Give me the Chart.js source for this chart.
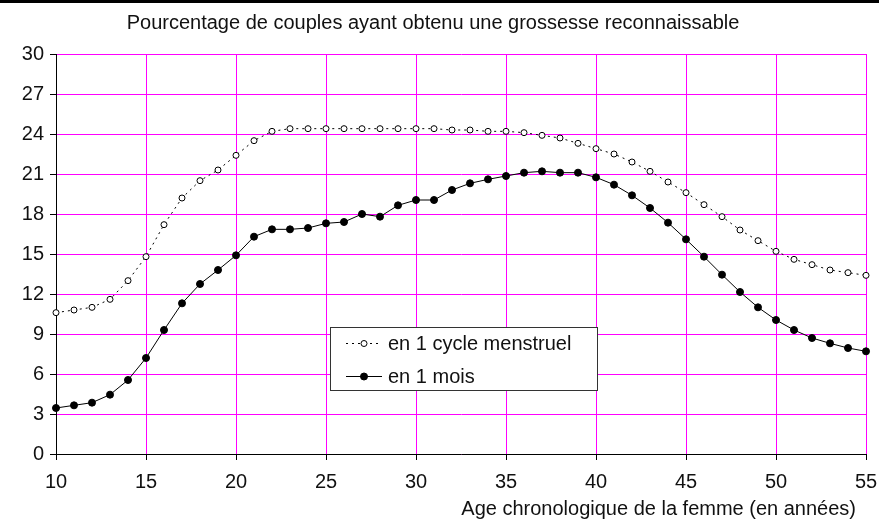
<!DOCTYPE html>
<html>
<head>
<meta charset="utf-8">
<script src="https://cdn.jsdelivr.net/npm/chart.js@4.4.1/dist/chart.umd.min.js"></script>
<style>
  html, body { margin: 0; padding: 0; background: #fff; }
  canvas { display: block; }
</style>
</head>
<body>
<canvas id="grossesse" width="879" height="530"></canvas>
<script>
// age de la femme (années)
const ages = [10, 11, 12, 13, 14, 15, 16, 17, 18, 19,
              20, 21, 22, 23, 24, 25, 26, 27, 28, 29,
              30, 31, 32, 33, 34, 35, 36, 37, 38, 39,
              40, 41, 42, 43, 44, 45, 46, 47, 48, 49,
              50, 51, 52, 53, 54, 55];

// % de couples, grossesse en 1 cycle menstruel
const parCycle = [10.6, 10.8, 11.0, 11.6, 13.0, 14.8, 17.2, 19.2, 20.5, 21.3,
                  22.4, 23.5, 24.2, 24.4, 24.4, 24.4, 24.4, 24.4, 24.4, 24.4,
                  24.4, 24.4, 24.3, 24.3, 24.2, 24.2, 24.1, 23.9, 23.7, 23.3,
                  22.9, 22.5, 21.9, 21.2, 20.4, 19.6, 18.7, 17.8, 16.8, 16.0,
                  15.2, 14.6, 14.2, 13.8, 13.6, 13.4];

// % de couples, grossesse en 1 mois
const parMois = [3.45, 3.65, 3.85, 4.45, 5.55, 7.2, 9.3, 11.3, 12.75, 13.8,
                 14.9, 16.3, 16.85, 16.85, 16.95, 17.3, 17.4, 18.0, 17.8, 18.65,
                 19.05, 19.05, 19.8, 20.3, 20.6, 20.85, 21.1, 21.2, 21.1, 21.1,
                 20.75, 20.2, 19.4, 18.45, 17.35, 16.1, 14.8, 13.45, 12.15, 11.0,
                 10.05, 9.3, 8.7, 8.3, 7.95, 7.7];

const xTicks = [10, 15, 20, 25, 30, 35, 40, 45, 50, 55];
const yTicks = [0, 3, 6, 9, 12, 15, 18, 21, 24, 27, 30];

const police = "'Liberation Sans', Arial, sans-serif";
const taille = 20;
const magenta = '#ff00ff';
const titreX = 'Age chronologique de la femme (en années)';

// fond blanc + filet noir en haut de la page
const fond = {
  id: 'fond',
  beforeDraw(chart) {
    const c = chart.ctx;
    c.save();
    c.fillStyle = '#fff';
    c.fillRect(0, 0, chart.width, chart.height);
    c.fillStyle = '#000';
    c.fillRect(0, 0, chart.width, 3);
    c.restore();
  }
};

// titre de l'axe x, calé à droite sous les graduations
const titreAxe = {
  id: 'titreAxe',
  afterDraw(chart) {
    const c = chart.ctx;
    c.save();
    c.fillStyle = '#111';
    c.font = taille + 'px ' + police;
    c.textAlign = 'right';
    c.textBaseline = 'middle';
    c.fillText(titreX, chart.chartArea.right - 10, 509);
    c.restore();
  }
};

// légende encadrée au milieu du graphique
const legendeBoite = {
  id: 'legendeBoite',
  afterDatasetsDraw(chart) {
    const c = chart.ctx;
    const x = 330, y = 327, w = 267, h = 63;
    c.save();
    c.fillStyle = '#fff';
    c.fillRect(x, y, w, h);
    c.strokeStyle = '#333';
    c.lineWidth = 1;
    c.strokeRect(x + 0.5, y + 0.5, w, h);

    chart.data.datasets.forEach((ds, i) => {
      const ly = y + 16 + i * 33;
      c.strokeStyle = '#000';
      c.setLineDash(ds.borderDash || []);
      c.beginPath();
      c.moveTo(346, ly + 0.5);
      c.lineTo(382, ly + 0.5);
      c.stroke();
      c.setLineDash([]);
      c.beginPath();
      c.arc(364, ly + 0.5, ds.pointRadius, 0, Math.PI * 2);
      c.fillStyle = ds.pointBackgroundColor;
      c.fill();
      c.stroke();
      c.fillStyle = '#111';
      c.font = taille + 'px ' + police;
      c.textBaseline = 'middle';
      c.fillText(ds.label, 388, ly + 1);
    });
    c.restore();
  }
};

new Chart(document.getElementById('grossesse'), {
  type: 'line',
  data: {
    datasets: [{
      label: 'en 1 cycle menstruel',
      data: ages.map((a, i) => ({ x: a, y: parCycle[i] })),
      borderColor: '#000',
      borderWidth: 1,
      borderDash: [2, 4],
      pointRadius: 3,
      pointBorderWidth: 1,
      pointBackgroundColor: '#fff',
      pointBorderColor: '#000',
      clip: false,
      tension: 0
    }, {
      label: 'en 1 mois',
      data: ages.map((a, i) => ({ x: a, y: parMois[i] })),
      borderColor: '#000',
      borderWidth: 1,
      pointRadius: 3.5,
      pointBorderWidth: 1,
      pointBackgroundColor: '#000',
      pointBorderColor: '#000',
      clip: false,
      tension: 0
    }]
  },
  options: {
    responsive: false,
    animation: false,
    layout: { padding: { left: 0, right: 13, top: 0, bottom: 0 } },
    plugins: {
      legend: { display: false },
      tooltip: { enabled: false },
      title: {
        display: true,
        text: 'Pourcentage de couples ayant obtenu une grossesse reconnaissable',
        color: '#111',
        font: { family: police, size: taille, weight: 'normal' },
        padding: { top: 11, bottom: 19 }
      }
    },
    scales: {
      x: {
        type: 'linear',
        min: 10,
        max: 55,
        afterBuildTicks(scale) {
          scale.ticks = xTicks.map(v => ({ value: v }));
        },
        afterFit(scale) {
          scale.height = 76;
          scale.paddingLeft = 0;
          scale.paddingRight = 0;
        },
        grid: { color: magenta, lineWidth: 1, tickColor: '#000', tickLength: 6 },
        border: { color: '#000', width: 1 },
        ticks: { color: '#111', padding: 10, maxRotation: 0, font: { family: police, size: taille } }
      },
      y: {
        min: 0,
        max: 30,
        afterBuildTicks(scale) {
          scale.ticks = yTicks.map(v => ({ value: v }));
        },
        afterFit(scale) {
          scale.width = 56;
          scale.paddingTop = 0;
          scale.paddingBottom = 0;
        },
        grid: { color: magenta, lineWidth: 1, tickColor: '#000', tickLength: 6 },
        border: { color: '#000', width: 1 },
        ticks: { color: '#111', padding: 6, font: { family: police, size: taille } }
      }
    }
  },
  plugins: [fond, titreAxe, legendeBoite]
});
</script>
</body>
</html>
